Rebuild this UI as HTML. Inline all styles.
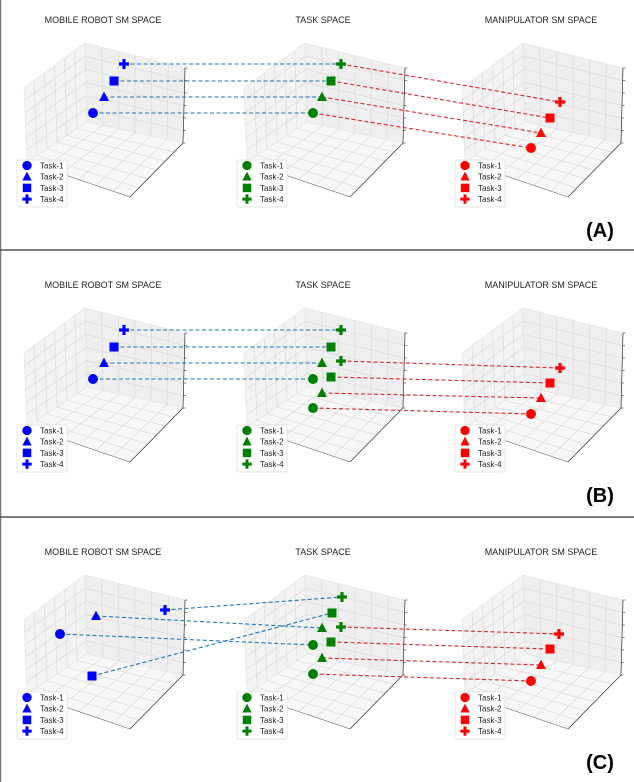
<!DOCTYPE html>
<html><head><meta charset="utf-8">
<style>
html,body{margin:0;padding:0;background:#fff;}
svg{display:block;font-family:"Liberation Sans",sans-serif;}
</style></head>
<body>
<svg id="fig" width="634" height="782" viewBox="0 0 634 782">
<rect x="0" y="0" width="634" height="782" fill="#fff"/>
<line x1="0.5" y1="0" x2="0.5" y2="782" stroke="#777" stroke-width="1.5"/>
<line x1="0" y1="250" x2="634" y2="250" stroke="#555" stroke-width="1.5"/>
<line x1="0" y1="517" x2="634" y2="517" stroke="#555" stroke-width="1.5"/>
</svg>
<script>
const NS='http://www.w3.org/2000/svg';
const svg=document.getElementById('fig');
const panelNames=['A','B','C'];
const panelOffsets=[0,265,532];
const boxOffsets=[0,220,438];
const boxTitles=['MOBILE ROBOT SM SPACE','TASK SPACE','MANIPULATOR SM SPACE'];
const taskLabels=['Task-1','Task-2','Task-3','Task-4'];
const shapes=['circle','triangle','square','plus'];
const mobileA=[[93,113],[104,97],[114,81],[124,64]];
const taskA=[[313,113],[322,97],[331,81],[341,64]];
const manipA=[[531,148],[541,133],[550,118],[560,102]];
const mobileB=[[93,379],[104,363],[114,347],[124,330]];
const taskB1=[[313,379],[322,363],[331,347],[341,330]];
const taskB2=[[313,408],[322,393],[331,377],[341,361]];
const manipB=[[531,414],[541,398],[550,383],[560,368]];
const mobileC=[[60,634],[96,616],[92,676],[165,610]];
const taskC1=[[313,645],[322,628],[332,613],[342,597]];
const taskC2=[[313,674],[322,658],[331,642],[341,627]];
const manipC=[[531,681],[541,665],[550,649],[559,634]];

function el(tag,attrs,parent){const e=document.createElementNS(NS,tag);for(const k in attrs)e.setAttribute(k,attrs[k]);(parent||svg).appendChild(e);return e;}
function lerp(a,b,t){return [a[0]+(b[0]-a[0])*t,a[1]+(b[1]-a[1])*t];}
function drawBox(ox,oy,idx){
  const g=el('g',{});
  
  
  const P=p=>[p[0]+ox,p[1]+oy];
  const T=P([85,43]),I=P([87,122]),LT=P([24,88]),LB=P([27,162]),RT=P([185,68]),RB=P([183,143]),F=P([130,197]);
  const poly=(pts,fill)=>el('polygon',{points:pts.map(p=>p.join(',')).join(' '),fill:fill,stroke:'#e0e0e0','stroke-width':0.6},g);
  poly([LT,T,I,LB],'#f3f3f3');poly([T,RT,RB,I],'#efefef');poly([LB,I,RB,F],'#f7f7f7');
  const ln=(a,b)=>el('line',{x1:a[0],y1:a[1],x2:b[0],y2:b[1],stroke:'#dadada','stroke-width':0.7},g);
  const N=6;
  for(let i=1;i<N;i++){const t=i/N;
    ln(lerp(LT,T,t),lerp(LB,I,t)); ln(lerp(LT,LB,t),lerp(T,I,t));
    ln(lerp(T,RT,t),lerp(I,RB,t)); ln(lerp(T,I,t),lerp(RT,RB,t));
    ln(lerp(LB,I,t),lerp(F,RB,t)); ln(lerp(I,RB,t),lerp(LB,F,t));}
  el('line',{x1:RT[0],y1:RT[1],x2:RB[0],y2:RB[1],stroke:'#333','stroke-width':0.7},g);
  el('line',{x1:RB[0],y1:RB[1],x2:F[0],y2:F[1],stroke:'#333','stroke-width':0.7},g);
  el('line',{x1:F[0],y1:F[1],x2:LB[0],y2:LB[1],stroke:'#555','stroke-width':0.5},g);
  for(let i=0;i<=N;i++){const p=lerp(RT,RB,i/N);el('line',{x1:p[0],y1:p[1],x2:p[0]+2.5,y2:p[1],stroke:'#333','stroke-width':0.6},g);}
  const title=el('text',{x:ox+103,y:oy+23,'font-size':9,fill:'#222','text-anchor':'middle'});
  title.textContent=boxTitles[idx];
  
  
}
function marker(shape,x,y,color,s,parent){
  const p=parent||svg;let m;
  if(shape==='circle')m=el('circle',{cx:x,cy:y,r:s*0.55,fill:color},p);
  else if(shape==='triangle')m=el('polygon',{points:`${x},${y-s*0.6} ${x-s*0.55},${y+s*0.45} ${x+s*0.55},${y+s*0.45}`,fill:color},p);
  else if(shape==='square')m=el('rect',{x:x-s*0.5,y:y-s*0.5,width:s,height:s,fill:color},p);
  else m=el('path',{d:`M${x-s*0.55},${y}H${x+s*0.55}M${x},${y-s*0.55}V${y+s*0.55}`,stroke:color,'stroke-width':s*0.35,fill:'none'},p);
  
  
  return m;
}
function legend(ox,oy,color){
  const g=el('g',{});
  
  
  el('rect',{x:ox+17,y:oy+160,width:50,height:47,fill:'#fff',stroke:'#ddd','stroke-width':0.7,rx:1.5},g);
  taskLabels.forEach((lab,i)=>{
    const y=oy+165.5+i*11.2;
    marker(shapes[i],ox+27,y,color,8.5,g);
    const t=el('text',{x:ox+40,y:y+3,'font-size':8,fill:'#222'},g);
    t.textContent=lab;
    
    
  });
}
function links(a,b,color){
  a.forEach((p,i)=>{const l=el('line',{x1:p[0],y1:p[1],x2:b[i][0],y2:b[i][1],stroke:color,'stroke-width':1.1,'stroke-dasharray':'4,2.5'});
    
    });
}
function markers(arr,color){arr.forEach((p,i)=>marker(shapes[i],p[0],p[1],color,9));}
const BLUE='#1f77b4',RED='#d62728';
panelOffsets.forEach((oy,pi)=>{
  boxOffsets.forEach((ox,bi)=>{drawBox(ox,oy,bi);});
  boxOffsets.forEach((ox,bi)=>legend(ox,oy,['#0000ff','#008000','#ff0000'][bi]));
  const lab=el('text',{x:600,y:oy+237,'font-size':20,'font-weight':'bold',fill:'#000','text-anchor':'middle'});
  lab.textContent='('+panelNames[pi]+')';
  
  
});
links(mobileA,taskA,BLUE);links(taskA,manipA,RED);
links(mobileB,taskB1,BLUE);links(taskB2,manipB,RED);
links(mobileC,taskC1,BLUE);links(taskC2,manipC,RED);
markers(mobileA,'#0000ff');markers(taskA,'#008000');markers(manipA,'#ff0000');
markers(mobileB,'#0000ff');markers(taskB1,'#008000');markers(taskB2,'#008000');markers(manipB,'#ff0000');
markers(mobileC,'#0000ff');markers(taskC1,'#008000');markers(taskC2,'#008000');markers(manipC,'#ff0000');
</script>
</body></html>
